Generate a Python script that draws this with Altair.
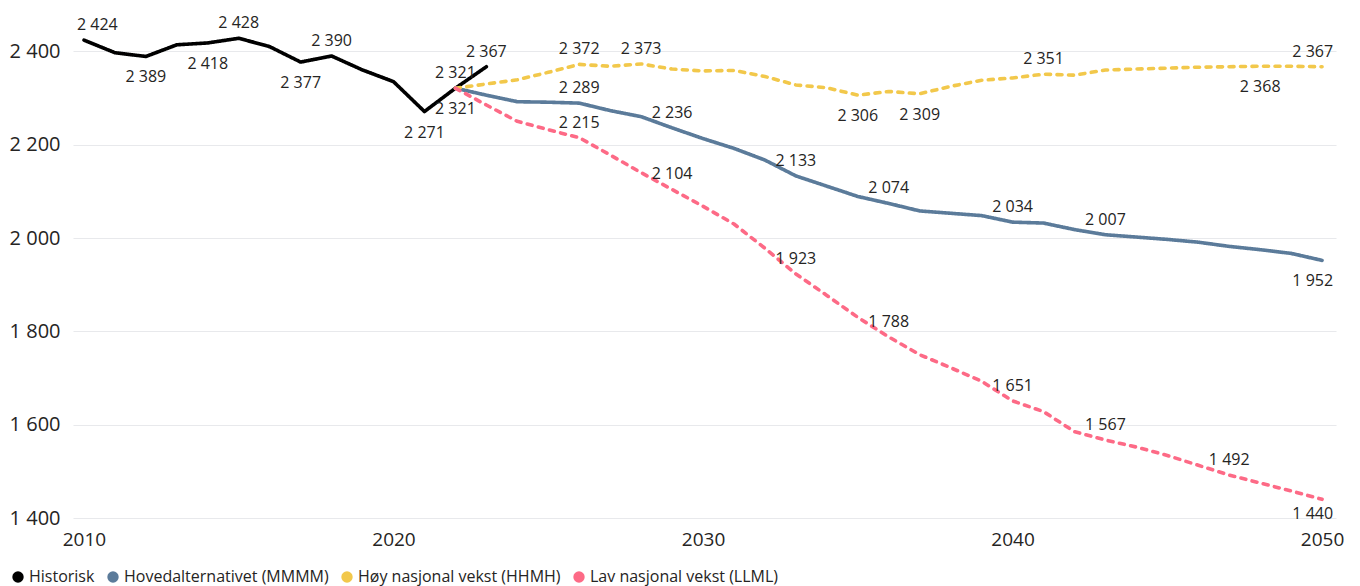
import altair as alt
import pandas as pd

# ---------------- data ----------------
series = [
    "Historisk",
    "Hovedalternativet (MMMM)",
    "Høy nasjonal vekst (HHMH)",
    "Lav nasjonal vekst (LLML)",
]
colors = ["#000000", "#5B7B9A", "#F2C84B", "#FD6A86"]

hist_years = list(range(2010, 2024))
hist = [2424, 2397, 2389, 2414, 2418, 2428, 2410, 2377, 2390, 2360, 2335, 2271, 2321, 2367]

proj_years = list(range(2022, 2051))
hoved = [2321, 2306, 2292, 2291, 2289, 2273, 2260, 2236, 2213, 2192, 2167, 2133, 2111, 2089,
         2074, 2058, 2053, 2048, 2034, 2032, 2018, 2007, 2002, 1997, 1991, 1982, 1975, 1967, 1952]
hoy = [2321, 2330, 2339, 2355, 2372, 2368, 2373, 2362, 2358, 2359, 2346, 2328, 2322, 2306,
       2314, 2309, 2325, 2338, 2343, 2351, 2349, 2360, 2362, 2364, 2366, 2367, 2368, 2368, 2367]
lav = [2321, 2285, 2250, 2232, 2215, 2178, 2140, 2104, 2068, 2030, 1978, 1923, 1877, 1830,
       1788, 1750, 1722, 1693, 1651, 1628, 1585, 1567, 1552, 1534, 1513, 1492, 1475, 1458, 1440]

x_ticks = [2010, 2020, 2030, 2040, 2050]
y_ticks = [1400, 1600, 1800, 2000, 2200, 2400]

# which points carry a data label (above / below the line)
labels_above = {
    "Historisk": [2010, 2015, 2018, 2022, 2023],
    "Hovedalternativet (MMMM)": [2026, 2029, 2033, 2036, 2040, 2043],
    "Høy nasjonal vekst (HHMH)": [2026, 2028, 2041, 2050],
    "Lav nasjonal vekst (LLML)": [2026, 2029, 2033, 2036, 2040, 2043, 2047],
}
labels_below = {
    "Historisk": [2012, 2014, 2017, 2021],
    "Hovedalternativet (MMMM)": [2022, 2050],
    "Høy nasjonal vekst (HHMH)": [2035, 2037, 2048],
    "Lav nasjonal vekst (LLML)": [2050],
}

# ---------------- tables ----------------
series_data = {
    series[0]: (hist_years, hist),
    series[1]: (proj_years, hoved),
    series[2]: (proj_years, hoy),
    series[3]: (proj_years, lav),
}
rows = []
for s, (yrs, vals) in series_data.items():
    for yr, v in zip(yrs, vals):
        rows.append({"serie": s, "year": yr, "value": v})
df = pd.DataFrame(rows)

lab_rows = []
for pos, d in (("above", labels_above), ("below", labels_below)):
    for s, yrs in d.items():
        yy, vv = series_data[s]
        for yr in yrs:
            edge = "left" if yr == min(x_ticks) else ("right" if yr == max(x_ticks) else "center")
            lab_rows.append({"serie": s, "year": yr, "value": vv[yy.index(yr)], "pos": pos, "edge": edge})
ldf = pd.DataFrame(lab_rows)

# ---------------- style ----------------
FONT = "Open Sans"
TXT = "#252423"
W, H = 1263, 490

xscale = alt.Scale(domain=[2009.645, 2050.45], nice=False, zero=False)
yscale = alt.Scale(domain=[1400, 2450], nice=False, zero=False)
xaxis = alt.Axis(values=x_ticks, format="d", title=None, grid=False, domain=False, ticks=False,
                 labelFont=FONT, labelFontSize=19, labelColor=TXT, labelPadding=12)
yaxis = alt.Axis(values=y_ticks, title=None, grid=True, gridColor="#E8E9EC", gridWidth=1.2,
                 domain=False, ticks=False, labelFont=FONT, labelFontSize=20, labelColor=TXT,
                 labelPadding=13, labelExpr="replace(format(datum.value, ','), ',', ' ')")

X = alt.X("year:Q", scale=xscale, axis=xaxis)
color_scale = alt.Scale(domain=series, range=colors)

legend_layer = alt.Chart(df).mark_circle(opacity=0).encode(
    x=X,
    y=alt.Y("value:Q", scale=yscale, axis=yaxis),
    color=alt.Color(
        "serie:N",
        scale=color_scale,
        legend=alt.Legend(
            title=None, orient="none", direction="horizontal", legendX=-63, legendY=541,
            symbolType="circle", symbolSize=130, symbolOpacity=1, symbolStrokeWidth=0,
            labelFont=FONT, labelFontSize=16, labelColor=TXT, labelOffset=3,
            columnPadding=10, padding=0, labelLimit=400,
        ),
    ),
)

lines = alt.Chart(df).mark_line(strokeWidth=3.6, strokeCap="round", strokeJoin="round").encode(
    x=X,
    y=alt.Y("value:Q", scale=yscale, axis=yaxis),
    color=alt.Color("serie:N", scale=color_scale),
    strokeDash=alt.StrokeDash(
        "serie:N",
        scale=alt.Scale(domain=series, range=[[1, 0], [1, 0], [5, 6.5], [5, 6.5]]),
        legend=None,
    ),
    detail="serie:N",
)


def text_layer(pos, edge):
    align = {"left": "left", "center": "center", "right": "right"}[edge]
    dx = {"left": -7, "center": 0, "right": 11}[edge]
    dy = -10 if pos == "above" else 26
    ypos = "datum.value" if pos == "above" else "max(datum.value, 1453)"
    return (
        alt.Chart(ldf)
        .transform_filter(f"datum.pos == '{pos}' && datum.edge == '{edge}'")
        .transform_calculate(
            ypos=ypos,
            label="replace(format(datum.value, ','), ',', ' ')",
        )
        .mark_text(align=align, baseline="alphabetic", dx=dx, dy=dy, font=FONT, fontSize=16, color=TXT)
        .encode(
            x=X,
            y=alt.Y("ypos:Q", scale=yscale, axis=yaxis),
            text="label:N",
        )
    )


combos = sorted(set(zip(ldf["pos"], ldf["edge"])))
texts = [text_layer(p, e) for p, e in combos]

chart = (
    alt.layer(legend_layer, lines, *texts)
    .properties(
        width=W,
        height=H,
        autosize=alt.AutoSizeParams(type="none"),
        padding={"left": 65, "top": 20, "right": 9, "bottom": 68},
        background="white",
    )
    .configure_view(stroke=None)
)

chart.save("out.html", embed_options={"renderer": "svg", "actions": False})
